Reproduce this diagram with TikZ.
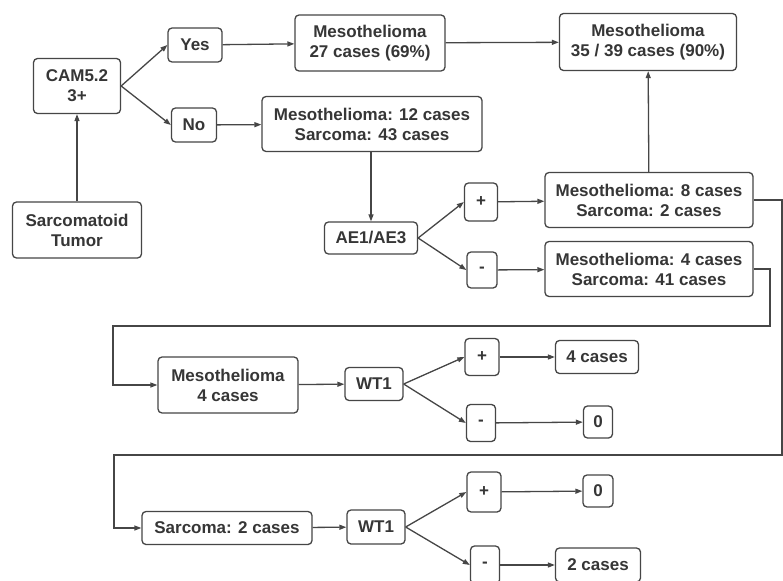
\documentclass[tikz,border=0pt]{standalone}
\usepackage{fontspec}
\setmainfont{Liberation Sans}
\usepackage{tikz}
\usetikzlibrary{arrows.meta}
\definecolor{inkgray}{HTML}{363636}
\definecolor{edgegray}{HTML}{464646}

\begin{document}
\begin{tikzpicture}[x=1pt, y=-1pt,
        box/.style={draw=edgegray, line width=1.3pt, rounded corners=4pt, align=center,
            text=inkgray, font=\bfseries\fontsize{17}{20}\selectfont, inner sep=2pt},
        link/.style={draw=edgegray, line width=1.3pt, -{Triangle[length=7pt,width=5pt]}},
        wire/.style={draw=edgegray, line width=1.3pt}]
    \useasboundingbox (0,0) rectangle (783,580);
    \clip (0,0) rectangle (783,580);
    \fill[white] (0,0) rectangle (783,580);
    \node[box, minimum width=129pt, minimum height=56pt] (tumor) at (77,230) {Sarcomatoid\\Tumor};
    \node[box, minimum width=87pt, minimum height=55pt] (cam) at (77,86) {CAM5.2\\3+};
    \node[box, minimum width=54pt, minimum height=34pt] (yes) at (195,45) {Yes};
    \node[box, minimum width=45pt, minimum height=34pt] (no) at (194,125) {No};
    \node[box, minimum width=150pt, minimum height=56pt] (meso27) at (370,43) {Mesothelioma\\27 cases (69\%)};
    \node[box, minimum width=220pt, minimum height=55pt] (mixed) at (372,124) {Mesothelioma: 12 cases\\Sarcoma: 43 cases};
    \node[box, minimum width=93pt, minimum height=32pt] (ae) at (371,238) {AE1/AE3};
    \node[box, minimum width=33pt, minimum height=38pt] (aepos) at (481,202) {+};
    \node[box, minimum width=30pt, minimum height=36pt] (aeneg) at (482,270) {-};
    \node[box, minimum width=208pt, minimum height=55pt] (meso8) at (649,200) {Mesothelioma: 8 cases\\Sarcoma: 2 cases};
    \node[box, minimum width=208pt, minimum height=55pt] (meso4) at (649,269) {Mesothelioma: 4 cases\\Sarcoma: 41 cases};
    \node[box, minimum width=177pt, minimum height=57pt] (meso35) at (648,42) {Mesothelioma\\35 / 39 cases (90\%)};
    \node[box, minimum width=140pt, minimum height=56pt] (mesoB) at (228,385) {Mesothelioma\\4 cases};
    \node[box, minimum width=58pt, minimum height=33pt] (wtA) at (374,384) {WT1};
    \node[box, minimum width=34pt, minimum height=37pt] (wtApos) at (482,357) {+};
    \node[box, minimum width=83pt, minimum height=33pt] (fourA) at (597,357) {4 cases};
    \node[box, minimum width=29pt, minimum height=37pt] (wtAneg) at (481,423) {-};
    \node[box, minimum width=29pt, minimum height=32pt] (zeroA) at (598,422) {0};
    \node[box, minimum width=170pt, minimum height=33pt] (sarcB) at (227,528) {Sarcoma: 2 cases};
    \node[box, minimum width=58pt, minimum height=34pt] (wtB) at (376,527) {WT1};
    \node[box, minimum width=34pt, minimum height=40pt] (wtBpos) at (484,492) {+};
    \node[box, minimum width=30pt, minimum height=32pt] (zeroB) at (598,491) {0};
    \node[box, minimum width=29pt, minimum height=38pt] (wtBneg) at (485,565) {-};
    \node[box, minimum width=85pt, minimum height=34pt] (twoB) at (598,565) {2 cases};
    \coordinate (loopA) at (770,326);
    \coordinate (loopB) at (782,455);
    \draw[link] (tumor) -- (cam);
    \draw[link] (cam.east) -- (yes.west);
    \draw[link] (cam.east) -- (no.west);
    \draw[link] (yes) -- (meso27);
    \draw[link] (no) -- (mixed);
    \draw[link] (meso27) -- (meso35);
    \draw[link] (mixed.south -| ae.north) -- (ae.north);
    \draw[link] (ae.east) -- (aepos.west);
    \draw[link] (ae.east) -- (aeneg.west);
    \draw[link] (aepos) -- (meso8);
    \draw[link] (aeneg) -- (meso4);
    \draw[link] (meso8) -- (meso35);
    \draw[link] (meso4.east) -| (loopA) -- (113,326) |- (mesoB.west);
    \draw[link] (meso8.east) -| (loopB) -- (114,455) |- (sarcB.west);
    \draw[link] (mesoB) -- (wtA);
    \draw[link] (wtA.east) -- (wtApos.west);
    \draw[link] (wtA.east) -- (wtAneg.west);
    \draw[link] (wtApos) -- (fourA);
    \draw[link] (wtAneg) -- (zeroA);
    \draw[link] (sarcB) -- (wtB);
    \draw[link] (wtB.east) -- (wtBpos.west);
    \draw[link] (wtB.east) -- (wtBneg.west);
    \draw[link] (wtBpos) -- (zeroB);
    \draw[link] (wtBneg) -- (twoB);
\end{tikzpicture}
\end{document}
